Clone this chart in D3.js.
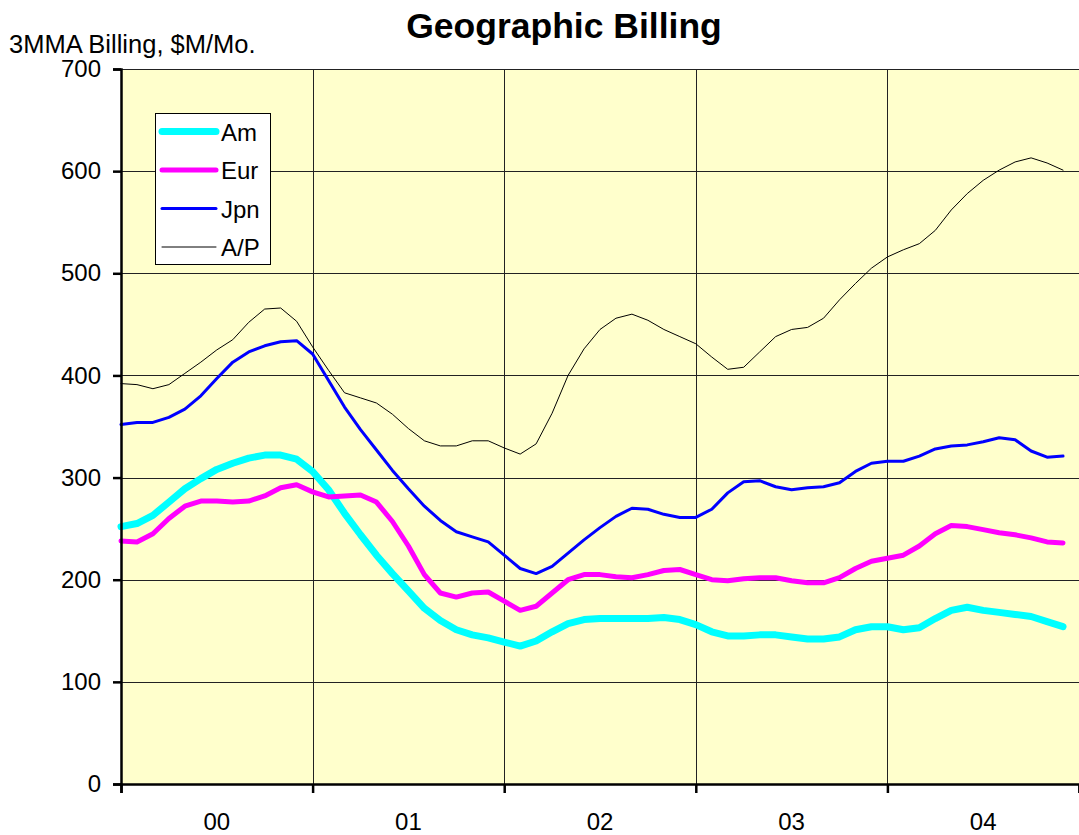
<!DOCTYPE html>
<html>
<head>
<meta charset="utf-8">
<script src="https://cdn.jsdelivr.net/npm/d3@7"></script>
<style>
  body { margin: 0; background: #fff; }
  text { font-family: "Liberation Sans", Arial, sans-serif; fill: #000; }
</style>
</head>
<body>
<div id="content"></div>
<script>
// monthly 3MMA billing, Jan 2000 .. Dec 2004 ($M/Mo.)
var years = ['00', '01', '02', '03', '04'];
var seriesNames = ['Am', 'Eur', 'Jpn', 'A/P'];
var am = [252, 255, 263, 276, 289, 299, 308, 314, 319, 322, 322, 318,
          306, 288, 265, 244, 224, 206, 189, 172, 160, 151, 146, 143,
          139, 135, 140, 149, 157, 161, 162, 162, 162, 162, 163, 161,
          156, 149, 145, 145, 146, 146, 144, 142, 142, 144, 151, 154,
          154, 151, 153, 162, 170, 173, 170, 168, 166, 164, 159, 154];
var eur = [238, 237, 245, 260, 272, 277, 277, 276, 277, 282, 290, 293,
           286, 281, 282, 283, 276, 257, 233, 205, 187, 183, 187, 188,
           179, 170, 174, 187, 200, 205, 205, 203, 202, 205, 209, 210,
           205, 200, 199, 201, 202, 202, 199, 197, 197, 202, 211, 218,
           221, 224, 233, 245, 253, 252, 249, 246, 244, 241, 237, 236];
var jpn = [352, 354, 354, 359, 367, 380, 397, 413, 423, 429, 433, 434,
           421, 395, 369, 347, 327, 307, 289, 272, 258, 247, 242, 237,
           224, 211, 206, 213, 226, 239, 251, 262, 270, 269, 264, 261,
           261, 269, 285, 296, 297, 291, 288, 290, 291, 295, 306, 314,
           316, 316, 321, 328, 331, 332, 335, 339, 337, 326, 320, 321];
var ap = [392, 391, 387, 391, 402, 413, 425, 435, 452, 465, 466, 453,
          428, 405, 383, 378, 373, 362, 348, 336, 331, 331, 336, 336,
          329, 323, 333, 363, 400, 426, 445, 456, 460, 454, 445, 438,
          431, 418, 406, 408, 423, 438, 445, 447, 456, 474, 490, 505,
          516, 523, 529, 542, 562, 578, 591, 601, 609, 613, 608, 601];
var yTicks = [0, 100, 200, 300, 400, 500, 600, 700];

var W = 1079, H = 835;
var plotL = 121, plotR = 1079, plotT = 69, plotB = 784;

var svg = d3.select('#content').append('svg')
    .attr('width', W)
    .attr('height', H);

var x = d3.scaleLinear().domain([0, 60]).range([plotL, plotR]);
var y = d3.scaleLinear().domain([0, 700]).range([plotB, plotT]);

// plot area
svg.append('rect')
    .attr('x', plotL).attr('y', plotT)
    .attr('width', plotR - plotL).attr('height', plotB - plotT)
    .attr('fill', '#FFFFCC');

// gridlines
svg.append('g').selectAll('line').data(yTicks.slice(1))
    .enter().append('line')
    .attr('x1', plotL).attr('x2', plotR)
    .attr('y1', function(d) { return Math.round(y(d)) + 0.5; })
    .attr('y2', function(d) { return Math.round(y(d)) + 0.5; })
    .attr('stroke', '#222').attr('stroke-width', 1);

svg.append('g').selectAll('line').data([12, 24, 36, 48])
    .enter().append('line')
    .attr('x1', function(d) { return Math.round(x(d)) + 0.5; })
    .attr('x2', function(d) { return Math.round(x(d)) + 0.5; })
    .attr('y1', plotT).attr('y2', plotB)
    .attr('stroke', '#222').attr('stroke-width', 1);

// series lines
var line = d3.line()
    .x(function(d, i) { return x(i); })
    .y(function(d) { return y(d); });

var series = [
    {name: seriesNames[0], values: am, color: '#00FFFF', width: 7},
    {name: seriesNames[1], values: eur, color: '#FF00FF', width: 5},
    {name: seriesNames[2], values: jpn, color: '#0000FF', width: 3},
    {name: seriesNames[3], values: ap, color: '#000000', width: 1}
];

svg.append('g').selectAll('path').data(series)
    .enter().append('path')
    .attr('d', function(s) { return line(s.values); })
    .attr('fill', 'none')
    .attr('stroke', function(s) { return s.color; })
    .attr('stroke-width', function(s) { return s.width; })
    .attr('stroke-linejoin', 'round')
    .attr('stroke-linecap', 'round');

// y axis
var yAxis = svg.append('g')
    .attr('transform', 'translate(' + plotL + ',0)')
    .call(d3.axisLeft(y).tickValues(yTicks).tickSize(8).tickPadding(12));
yAxis.select('.domain').attr('stroke-width', 2.5);
yAxis.selectAll('.tick line').attr('stroke-width', 2.5);
yAxis.selectAll('text')
    .style('font-size', '24px')
    .style('font-family', '"Liberation Sans", Arial, sans-serif');

// x axis
var xAxis = svg.append('g')
    .attr('transform', 'translate(0,' + plotB + ')')
    .call(d3.axisBottom(x).tickValues([0, 12, 24, 36, 48, 60]).tickSize(9).tickFormat(''));
xAxis.select('.domain').attr('stroke-width', 2.5);
xAxis.selectAll('.tick line').attr('stroke-width', 2.5);

svg.append('g').selectAll('text').data(years)
    .enter().append('text')
    .attr('x', function(d, i) { return x(i * 12 + 6); })
    .attr('y', 830)
    .attr('text-anchor', 'middle')
    .style('font-size', '24px')
    .text(function(d) { return d; });

// titles
svg.append('text')
    .attr('x', 564).attr('y', 38)
    .attr('text-anchor', 'middle')
    .style('font-size', '35.5px')
    .style('font-weight', 'bold')
    .text('Geographic Billing');

svg.append('text')
    .attr('x', 9).attr('y', 53)
    .style('font-size', '25.5px')
    .text('3MMA Billing, $M/Mo.');

// legend
var legend = svg.append('g');
legend.append('rect')
    .attr('x', 155.5).attr('y', 113.5)
    .attr('width', 115).attr('height', 151)
    .attr('fill', '#fff').attr('stroke', '#000').attr('stroke-width', 1);

var items = legend.selectAll('g.item').data(series)
    .enter().append('g')
    .attr('class', 'item')
    .attr('transform', function(d, i) { return 'translate(0,' + (131.5 + i * 38.5) + ')'; });

items.append('line')
    .attr('x1', 162).attr('x2', 216)
    .attr('stroke', function(s) { return s.color; })
    .attr('stroke-width', function(s) { return s.width; })
    .attr('stroke-linecap', 'round');

items.append('text')
    .attr('x', 221).attr('y', 9)
    .style('font-size', '24px')
    .text(function(s) { return s.name; });
</script>
</body>
</html>
